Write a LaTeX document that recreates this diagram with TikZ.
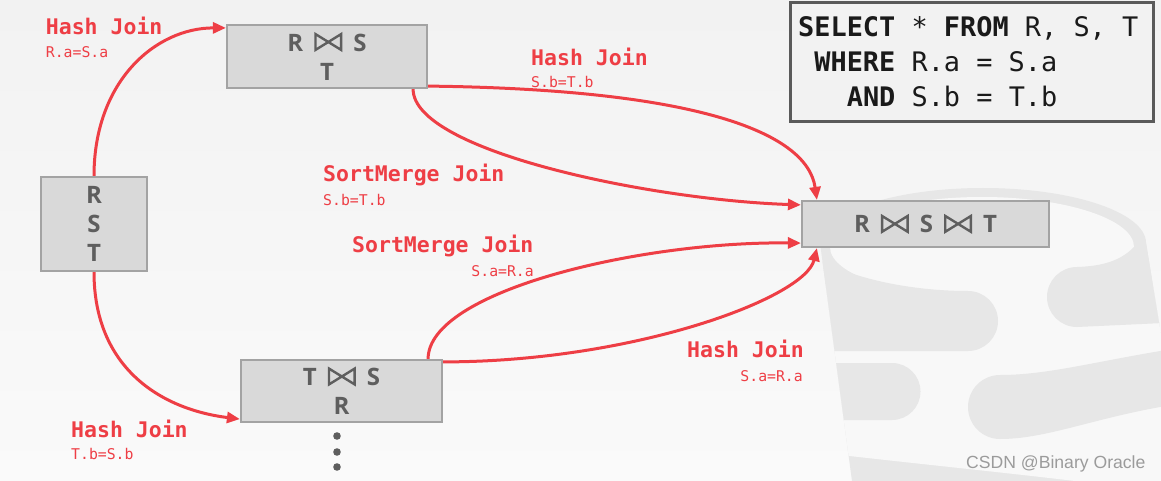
\documentclass[tikz,border=0pt]{standalone}
\usepackage{fontspec}
\usetikzlibrary{arrows.meta,calc}
\newfontfamily\boxfont{Open Sans}
\newfontfamily\monofont{DejaVu Sans Mono}
\newfontfamily\wmfont{Liberation Sans}
\definecolor{jred}{RGB}{238,62,69}
\definecolor{boxfill}{HTML}{D9D9D9}
\definecolor{boxline}{HTML}{A3A3A3}
\definecolor{boxtext}{HTML}{5E5E5E}
\definecolor{logo}{HTML}{E7E7E7}
\definecolor{logolight}{HTML}{F8F8F8}
\definecolor{bgtop}{HTML}{F2F2F2}
\definecolor{bgbot}{HTML}{FAFAFA}
\definecolor{sqlline}{HTML}{5A5A5A}
\definecolor{sqlfill}{HTML}{F2F2F2}
\definecolor{sqltext}{HTML}{1A1A1A}
\definecolor{wmgray}{HTML}{9B9B9B}
\newcommand\bowt{\kern11pt\tikz[x=1pt,y=1pt,baseline=0pt]\draw[boxtext,line width=2.4pt,line join=miter]
  (1.2,1.2) -- (1.2,17) -- (26.8,1.2) -- (26.8,17) -- cycle;\kern11pt\relax}
\tikzset{
  relbox/.style={draw=boxline, fill=boxfill, line width=2.2pt, inner sep=0pt,
    text=boxtext, font=\boxfont\bfseries\fontsize{24}{29}\selectfont, align=center},
  joinname/.style={text=jred, font=\monofont\bfseries\fontsize{21.5}{24}\selectfont, inner sep=0pt},
  joincond/.style={text=jred, font=\monofont\fontsize{14.8}{17}\selectfont, inner sep=0pt},
  joinarrow/.style={draw=jred, line width=3pt, -{Triangle[length=13pt,width=11pt]}},
  sqlrow/.style={text=sqltext, font=\monofont\fontsize{26.9}{30}\selectfont, inner sep=0pt, anchor=base west},
}
\begin{document}
\begin{tikzpicture}[x=1pt,y=-1pt]
\useasboundingbox (0,0) rectangle (1161,481);
\shade[top color=bgtop,bottom color=bgbot] (0,0) rectangle (1161,481);
% background database logo
\begin{scope}
  \clip (820,243) arc[start angle=180,end angle=360,x radius=163,y radius=55]
        -- (1185,481) -- (852,481) -- cycle;
  \fill[logo] (0,0) rectangle (1200,481);
  \fill[logolight] (815,285) -- (1185,285) -- (1185,481) -- (1075,481)
        .. controls (1000,472) and (900,462) .. (815,452) -- cycle;
  \fill[logolight] (982,247) ellipse[x radius=152, y radius=50];
  \fill[logo] (815,258) .. controls (860,282) and (920,291) .. (968,291)
        arc[start angle=-90,end angle=90,radius=30] -- (815,351) -- cycle;
  \fill[logo] (1185,235) -- (1185,322) -- (1077,327)
        arc[start angle=90,end angle=270,radius=30]
        .. controls (1105,266) and (1125,260) .. (1140,240) -- cycle;
  \fill[logo] (815,363) -- (892,363) arc[start angle=-90,end angle=90,radius=28.5]
        -- (815,420) -- cycle;
  \fill[logo] (1185,347) -- (1185,403) .. controls (1100,415) and (1050,439) .. (1000,439)
        arc[start angle=90,end angle=270,radius=32]
        .. controls (1050,375) and (1100,360) .. (1185,347) -- cycle;
\end{scope}
% SQL box
\node[draw=sqlline, fill=sqlfill, line width=3pt, minimum width=363pt, minimum height=119pt, inner sep=0pt] (sql) at (971.5,62.5) {};
\node[sqlrow] (sqlA) at (798,37) {\textbf{SELECT} * \textbf{FROM} R, S, T};
\node[sqlrow] (sqlB) at (814.2,72) {\textbf{WHERE} R.a = S.a};
\node[sqlrow] (sqlC) at (846.6,107) {\textbf{AND} S.b = T.b};
% relation boxes
\node[relbox, minimum width=106pt, minimum height=94pt] (rst) at (94,224) {R\\S\\T};
\node[relbox, minimum width=200pt, minimum height=63pt] (rs) at (327,56.5) {R\bowt S\\T};
\node[relbox, minimum width=201pt, minimum height=62pt] (ts) at (341.5,391) {T\bowt S\\R};
\node[relbox, minimum width=247pt, minimum height=46pt] (rst3) at (925.5,224) {R\bowt S\bowt T};
% arrows
\draw[joinarrow] (rst.north) .. controls +(0,-95) and +(-70,0) .. ([yshift=-4pt]rs.north west);
\draw[joinarrow] (rst.south) .. controls +(0,95) and +(-80,-10) .. ([yshift=4pt]ts.south west);
\draw[joinarrow] ([yshift=3pt]rs.south east) .. controls +(260,3) and +(-10,-70) .. ([xshift=16pt]rst3.north west);
\draw[joinarrow] ([xshift=-15pt]rs.south east) .. controls +(0,62) and +(-150,-5) .. ([yshift=-5pt]rst3.north west);
\draw[joinarrow] ([xshift=-15pt]ts.north east) .. controls +(0,-68) and +(-160,-2) .. ([yshift=5pt]rst3.south west);
\draw[joinarrow] ([yshift=-3pt]ts.north east) .. controls +(190,0) and +(-12,50) .. ([xshift=16pt]rst3.south west);
% labels
\node[joinname, anchor=base west] (n1) at (45.7,35) {Hash Join};
\node[joincond, anchor=base west] (c1) at (45.7,58) {R.a=S.a};
\node[joinname, anchor=base west] (n2) at (531,66) {Hash Join};
\node[joincond, anchor=base west] (c2) at (531,88) {S.b=T.b};
\node[joinname, anchor=base west] (n3) at (323,182) {SortMerge Join};
\node[joincond, anchor=base west] (c3) at (323,205) {S.b=T.b};
\node[joinname, anchor=base west] (n4) at (352,252) {SortMerge Join};
\node[joincond, anchor=base east] (c4) at (534,276) {S.a=R.a};
\node[joinname, anchor=base west] (n5) at (687,357) {Hash Join};
\node[joincond, anchor=base east] (c5) at (803,381) {S.a=R.a};
\node[joinname, anchor=base west] (n6) at (71,437) {Hash Join};
\node[joincond, anchor=base west] (c6) at (71,459) {T.b=S.b};
% dots
\fill[boxtext] (337,436) circle[radius=3.8];
\fill[boxtext] (337,452) circle[radius=3.8];
\fill[boxtext] (337,467) circle[radius=3.8];
% watermark
\node[anchor=base west, inner sep=0pt, text=wmgray, font=\wmfont\fontsize{17.6}{20}\selectfont] (wm) at (966,468) {CSDN @Binary Oracle};
\end{tikzpicture}
\end{document}
